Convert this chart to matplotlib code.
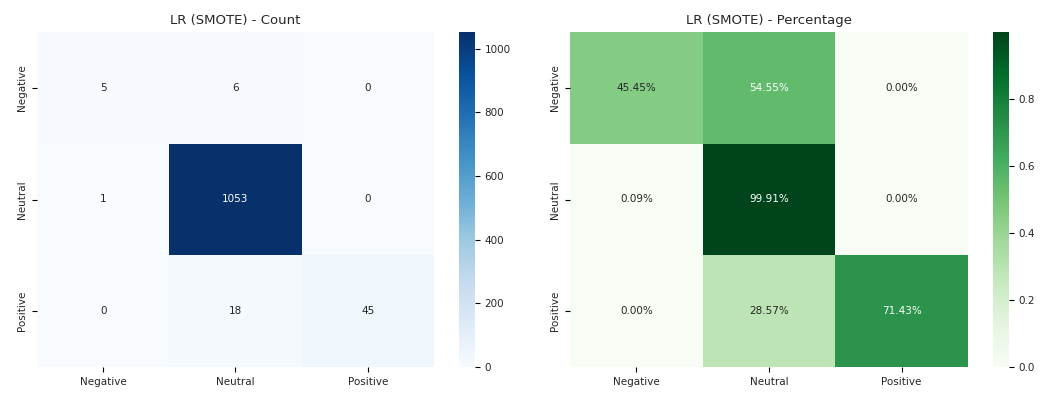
import matplotlib
matplotlib.use('Agg')
import matplotlib.pyplot as plt
import numpy as np
import seaborn as sns

plt.rcParams['font.family'] = 'DejaVu Sans'
plt.rcParams['font.size'] = 7.5
plt.rcParams['text.color'] = '#262626'
plt.rcParams['xtick.labelcolor'] = '#262626'
plt.rcParams['ytick.labelcolor'] = '#262626'

labels = ['Negative', 'Neutral', 'Positive']
counts = np.array([
    [5, 6, 0],
    [1, 1053, 0],
    [0, 18, 45],
])
# row-normalised confusion matrix
pct = counts / counts.sum(axis=1, keepdims=True)

W, H = 1045, 395
fig = plt.figure(figsize=(W / 100, H / 100), dpi=100)

def box(x0, x1, y0=32, y1=367):
    return [x0 / W, (H - y1) / H, (x1 - x0) / W, (y1 - y0) / H]

ax1 = fig.add_axes(box(37, 434))
cax1 = fig.add_axes(box(459, 475))
ax2 = fig.add_axes(box(570, 968))
cax2 = fig.add_axes(box(993, 1009))

sns.heatmap(counts, annot=True, fmt='d', cmap='Blues', ax=ax1, cbar_ax=cax1,
            xticklabels=labels, yticklabels=labels, annot_kws={'size': 7.5})
ax1.set_title('LR (SMOTE) - Count', fontsize=9.5)

sns.heatmap(pct, annot=True, fmt='.2%', cmap='Greens', ax=ax2, cbar_ax=cax2,
            xticklabels=labels, yticklabels=labels, annot_kws={'size': 7.5})
ax2.set_title('LR (SMOTE) - Percentage', fontsize=9.5)

for ax in (ax1, ax2):
    ax.tick_params(axis='both', length=3.5, width=0.8, color='black')
    plt.setp(ax.get_yticklabels(), rotation=90, va='center')
for cax in (cax1, cax2):
    cax.tick_params(length=3.5, width=0.8, color='black')

fig.savefig('out.png', dpi=100, facecolor='white')
